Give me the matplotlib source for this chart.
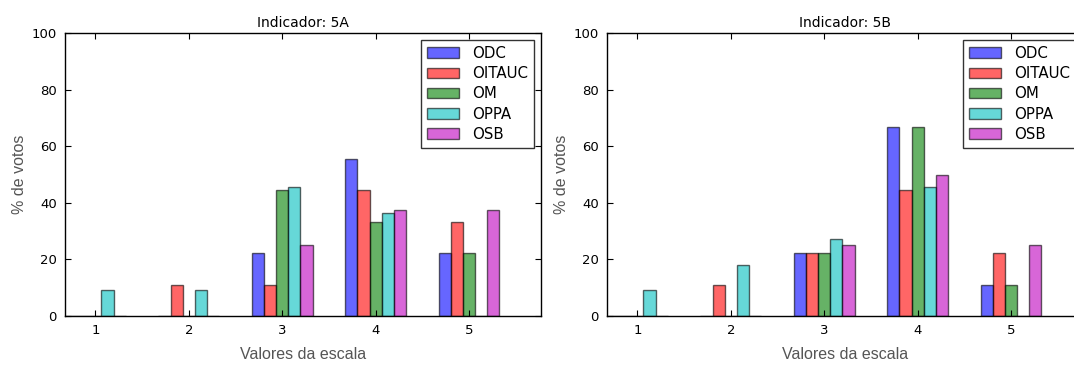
import numpy as np
import matplotlib
matplotlib.use('Agg')
import matplotlib.pyplot as plt

escala = [1, 2, 3, 4, 5]
series = ['ODC', 'OITAUC', 'OM', 'OPPA', 'OSB']
cores = ['blue', 'red', 'green', 'c', 'm']

# % de votos, indicador 5A (rows follow escala)
odc_5a = [0, 0, 22.2, 55.6, 22.2]
oitauc_5a = [0, 11.1, 11.1, 44.4, 33.3]
om_5a = [0, 0, 44.4, 33.3, 22.2]
oppa_5a = [9.09, 9.09, 45.45, 36.36, 0]
osb_5a = [0, 0, 25.0, 37.5, 37.5]

# % de votos, indicador 5B
odc_5b = [0, 0, 22.2, 66.7, 11.1]
oitauc_5b = [0, 11.1, 22.2, 44.4, 22.2]
om_5b = [0, 0, 22.2, 66.7, 11.1]
oppa_5b = [9.09, 18.18, 27.27, 45.45, 0]
osb_5b = [0, 0, 25.0, 50.0, 25.0]

W, H = 1074, 367
fig = plt.figure(figsize=(W / 100, H / 100), dpi=100)

def plot_indicador(ax, dados, titulo):
    ind = np.array(escala, dtype=float)
    width = 0.13
    for i, (vals, cor, nome) in enumerate(zip(dados, cores, series)):
        ax.bar(ind - 2.5 * width + i * width, vals, width, align='edge',
               color=cor, alpha=0.6, edgecolor='black', linewidth=1.0,
               label=nome)
    ax.set_xlim(0.675, 5.77)
    ax.set_ylim(0, 100)
    ax.set_xticks(escala)
    ax.set_yticks([0, 20, 40, 60, 80, 100])
    ax.tick_params(direction='in', top=True, right=True, length=4,
                   labelsize=9.5, pad=6)
    ax.set_title(titulo, fontsize=10, pad=4)
    ax.set_xlabel('Valores da escala', family='Liberation Sans',
                  fontsize=11.5, color='#555555', labelpad=7)
    ax.set_ylabel('% de votos', family='Liberation Sans', fontsize=11.5,
                  color='#555555', labelpad=3)
    for s in ax.spines.values():
        s.set_linewidth(1.0)
    leg = ax.legend(loc='upper right', fontsize=10.8, fancybox=False,
                    borderaxespad=0.45, labelspacing=0.35, handlelength=2.1,
                    handletextpad=0.9, borderpad=0.4)
    leg.get_frame().set_edgecolor('black')
    leg.get_frame().set_linewidth(1.0)

bottom = (H - 316) / H
height = 283 / H
ax1 = fig.add_axes([65 / W, bottom, 476 / W, height])
ax2 = fig.add_axes([607 / W, bottom, 476 / W, height])

plot_indicador(ax1, [odc_5a, oitauc_5a, om_5a, oppa_5a, osb_5a], 'Indicador: 5A')
plot_indicador(ax2, [odc_5b, oitauc_5b, om_5b, oppa_5b, osb_5b], 'Indicador: 5B')

fig.savefig('out.png', dpi=100)
